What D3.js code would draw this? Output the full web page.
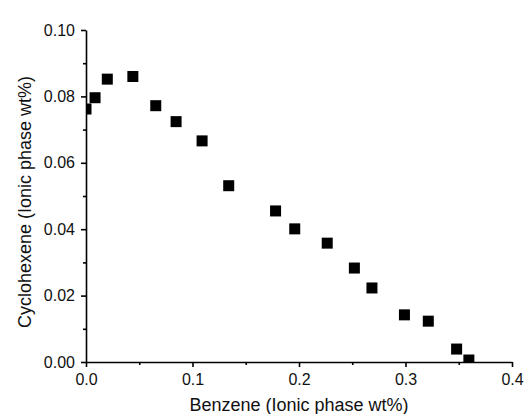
<!DOCTYPE html>
<html>
<head>
<meta charset="utf-8">
<script src="https://cdn.jsdelivr.net/npm/d3@7"></script>
<style>
  body { margin: 0; background: #fff; }
  svg { font-family: "Liberation Sans", Arial, sans-serif; }
  .axis path, .axis line { stroke: #000; stroke-width: 1.6; }
  .axis text { font-size: 16px; fill: #111; }
</style>
</head>
<body>
<svg width="525" height="414"></svg>
<script>
var width = 525;
var height = 414;
var margin = {top: 30, right: 13, bottom: 52, left: 86};

// benzene vs cyclohexene, ionic phase wt%
var benzene =     [0.000, 0.0085, 0.020, 0.044, 0.0655, 0.0846, 0.109, 0.134, 0.178, 0.196, 0.2265, 0.252, 0.2685, 0.299, 0.3214, 0.348, 0.3595];
var cyclohexene = [0.0762, 0.0796, 0.0852, 0.0860, 0.0772, 0.0724, 0.0666, 0.0531, 0.0455, 0.0401, 0.0358, 0.0283, 0.0223, 0.0142, 0.0123, 0.0039, 0.0006];

var xTicks = [0, 0.1, 0.2, 0.3, 0.4];
var xMinor = [0.05, 0.15, 0.25, 0.35];
var yTicks = [0, 0.02, 0.04, 0.06, 0.08, 0.10];
var yMinor = [0.01, 0.03, 0.05, 0.07, 0.09];

var svg = d3.select("svg");
var plotW = width - margin.left - margin.right;
var plotH = height - margin.top - margin.bottom;

var x = d3.scaleLinear().domain([0, 0.4]).range([0, plotW]);
var y = d3.scaleLinear().domain([0, 0.10]).range([plotH, 0]);

var g = svg.append("g")
    .attr("transform", "translate(" + margin.left + "," + margin.top + ")");

g.append("clipPath").attr("id", "clip")
  .append("rect").attr("width", plotW).attr("height", plotH);

// minor ticks first, majors on top
g.append("g").attr("class", "axis")
    .attr("transform", "translate(0," + plotH + ")")
    .call(d3.axisBottom(x).tickValues(xMinor).tickSize(3).tickFormat(""))
    .select(".domain").remove();
g.append("g").attr("class", "axis")
    .call(d3.axisLeft(y).tickValues(yMinor).tickSize(3).tickFormat(""))
    .select(".domain").remove();

g.append("g").attr("class", "axis")
    .attr("transform", "translate(0," + plotH + ")")
    .call(d3.axisBottom(x).tickValues(xTicks).tickSize(5).tickSizeOuter(0).tickPadding(7).tickFormat(d3.format(".1f")));

g.append("g").attr("class", "axis")
    .call(d3.axisLeft(y).tickValues(yTicks).tickSize(5).tickSizeOuter(0).tickPadding(6).tickFormat(d3.format(".2f")));

var pts = benzene.map(function(b, i) { return {x: b, y: cyclohexene[i]}; });
var s = 11;

g.append("g").attr("clip-path", "url(#clip)")
  .selectAll("rect")
  .data(pts)
  .enter().append("rect")
    .attr("x", d => x(d.x) - s / 2)
    .attr("y", d => y(d.y) - s / 2)
    .attr("width", s)
    .attr("height", s)
    .attr("fill", "#000");

svg.append("text")
    .attr("x", margin.left + plotW / 2)
    .attr("y", 411)
    .attr("text-anchor", "middle")
    .style("font-size", "18px")
    .style("fill", "#111")
    .text("Benzene (Ionic phase wt%)");

svg.append("text")
    .attr("transform", "translate(31," + (margin.top + plotH / 2 + 6) + ") rotate(-90)")
    .attr("text-anchor", "middle")
    .style("font-size", "18px")
    .style("fill", "#111")
    .text("Cyclohexene (Ionic phase wt%)");
</script>
</body>
</html>
